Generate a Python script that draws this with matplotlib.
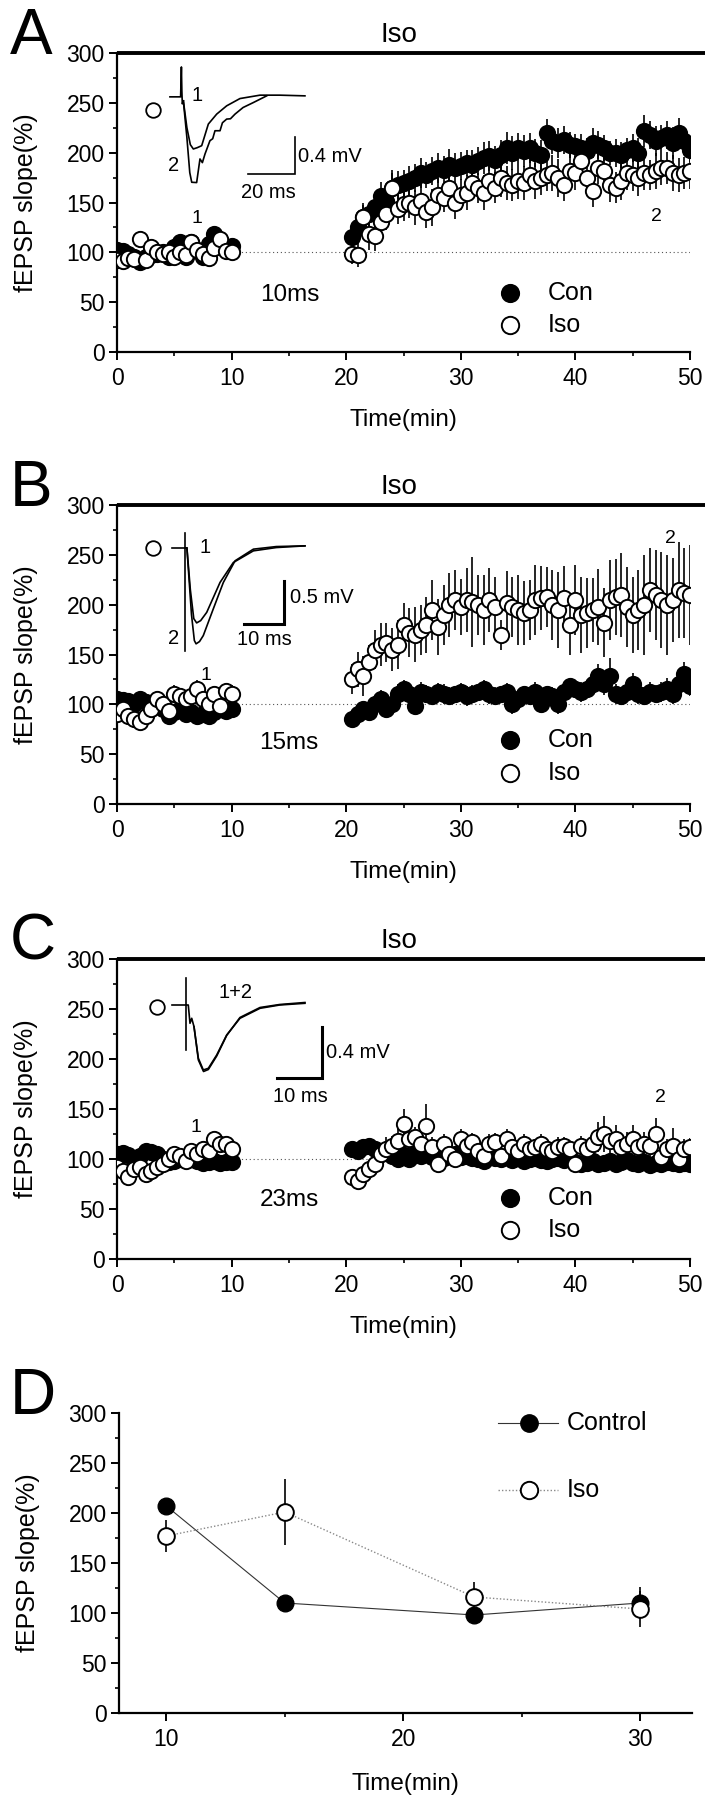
import numpy as np
import matplotlib
matplotlib.use("Agg")
import matplotlib.pyplot as plt

plt.rcParams['font.family'] = ['Liberation Sans', 'DejaVu Sans']

# ---------------- time grids ----------------
t_base = np.arange(0, 10.01, 0.5)
t_post = np.arange(20.5, 50.01, 0.5)

# ---------------- Panel A (10 ms) ----------------
A_con_base = [102, 101, 98, 95, 90, 95, 97, 98, 100, 95, 105, 110, 95, 110, 102, 95, 108, 118, 112, 104, 106]
A_iso_base = [92, 91, 94, 93, 113, 92, 105, 100, 98, 100, 95, 100, 97, 110, 102, 98, 94, 104, 113, 101, 100]
A_con_post = [115, 125, 135, 138, 145, 157, 152, 165, 168, 170, 172, 175, 180, 178, 182, 185, 183, 188, 185, 187,
              190, 188, 192, 195, 197, 193, 198, 205, 200, 205, 202, 205, 200, 198, 220, 212, 210, 213, 208, 207,
              205, 202, 210, 208, 205, 200, 200, 198, 203, 205, 200, 222, 218, 212, 215, 218, 210, 220, 212, 203]
A_iso_post = [98, 97, 135, 118, 116, 130, 138, 165, 143, 148, 150, 145, 152, 140, 145, 158, 155, 165, 150, 158,
              160, 170, 165, 160, 172, 165, 175, 170, 168, 172, 170, 178, 172, 175, 178, 180, 175, 168, 182, 180,
              192, 175, 162, 185, 182, 168, 165, 172, 180, 178, 175, 180, 178, 182, 185, 185, 180, 178, 180, 182]
A_con_base_err = [5, 4, 4, 5, 6, 5, 5, 4, 5, 6, 5, 6, 5, 6, 5, 6, 5, 7, 6, 5, 5]
A_iso_base_err = [5, 6, 5, 5, 6, 5, 6, 5, 5, 6, 5, 6, 5, 6, 5, 6, 5, 6, 5, 6, 5]
A_con_post_err = [8, 10, 12, 12, 13, 14, 12, 15, 14, 13, 15, 14, 15, 13, 14, 15, 14, 16, 15, 14,
                  13, 15, 14, 16, 15, 14, 15, 16, 17, 15, 16, 15, 14, 15, 14, 13, 15, 14, 13, 12,
                  14, 13, 15, 14, 13, 12, 14, 13, 12, 14, 15, 16, 14, 15, 13, 14, 16, 15, 14, 12]
A_iso_post_err = [10, 12, 14, 16, 15, 14, 16, 18, 15, 17, 16, 18, 17, 16, 19, 17, 15, 18, 17, 16,
                  18, 17, 15, 18, 17, 16, 19, 17, 16, 18, 17, 15, 18, 17, 16, 18, 19, 16, 18, 17,
                  15, 18, 17, 16, 18, 17, 16, 19, 17, 16, 18, 17, 15, 18, 17, 16, 18, 17, 16, 18]

# ---------------- Panel B (15 ms) ----------------
B_con_base = [105, 104, 103, 100, 105, 102, 98, 100, 95, 88, 92, 95, 90, 92, 88, 90, 88, 92, 95, 93, 95]
B_iso_base = [90, 95, 88, 85, 82, 88, 95, 105, 100, 93, 110, 108, 105, 108, 115, 105, 100, 110, 98, 113, 110]
B_con_post = [85, 90, 95, 92, 100, 105, 95, 100, 110, 115, 110, 98, 112, 110, 108, 112, 110, 108, 110, 112,
              108, 110, 112, 115, 110, 108, 110, 112, 100, 105, 110, 108, 112, 100, 110, 108, 100, 112, 118, 115,
              112, 115, 120, 128, 120, 128, 110, 108, 112, 120, 110, 108, 112, 110, 112, 115, 110, 120, 130, 118]
B_iso_post = [125, 135, 128, 142, 155, 160, 162, 155, 160, 180, 172, 170, 175, 180, 195, 178, 190, 200, 205, 198,
              205, 203, 200, 195, 205, 198, 170, 202, 198, 195, 192, 195, 205, 207, 208, 200, 195, 207, 180, 205,
              190, 192, 195, 198, 182, 205, 208, 210, 198, 190, 195, 200, 215, 210, 205, 200, 205, 215, 212, 210]
B_con_base_err = [6, 5, 6, 5, 6, 5, 6, 5, 6, 5, 6, 5, 6, 5, 6, 5, 6, 5, 6, 5, 6]
B_iso_base_err = [7, 8, 7, 8, 7, 8, 7, 8, 9, 8, 9, 8, 9, 8, 9, 8, 9, 8, 9, 8, 9]
B_con_post_err = [6, 7, 8, 7, 8, 9, 8, 9, 10, 9, 10, 9, 10, 9, 8, 9, 10, 9, 8, 9,
                  10, 9, 8, 9, 10, 9, 8, 9, 10, 9, 8, 9, 10, 9, 8, 9, 10, 9, 8, 9,
                  10, 9, 10, 12, 11, 18, 10, 9, 10, 11, 10, 9, 10, 9, 10, 11, 10, 11, 12, 10]
B_iso_post_err = [15, 18, 20, 18, 20, 22, 20, 22, 25, 22, 25, 28, 25, 28, 30, 28, 30, 32, 30, 28,
                  32, 45, 30, 35, 32, 30, 15, 32, 30, 35, 32, 30, 35, 32, 30, 35, 38, 32, 30, 35,
                  38, 35, 32, 38, 35, 40, 38, 42, 40, 38, 40, 50, 42, 45, 48, 50, 42, 48, 45, 50]

# ---------------- Panel C (23 ms) ----------------
C_con_base = [105, 106, 104, 100, 103, 108, 107, 105, 100, 97, 98, 100, 102, 100, 98, 96, 97, 98, 96, 97, 97]
C_iso_base = [92, 88, 82, 90, 92, 85, 88, 92, 95, 100, 105, 103, 98, 108, 105, 110, 108, 120, 115, 115, 110]
C_con_post = [110, 108, 112, 113, 110, 105, 108, 103, 100, 104, 100, 105, 103, 106, 102, 104, 101, 103, 105, 102,
              103, 101, 100, 98, 102, 101, 100, 103, 99, 101, 98, 100, 101, 99, 98, 100, 101, 99, 100, 97,
              95, 96, 98, 95, 96, 98, 95, 97, 99, 96, 95, 97, 94, 96, 95, 97, 96, 95, 96, 95]
C_iso_post = [82, 78, 85, 90, 95, 105, 110, 113, 118, 135, 120, 122, 115, 133, 112, 95, 115, 105, 100, 120,
              113, 117, 108, 103, 115, 117, 103, 120, 112, 108, 115, 110, 112, 115, 110, 108, 112, 113, 110, 95,
              113, 110, 115, 122, 125, 118, 120, 112, 115, 120, 112, 115, 113, 125, 102, 110, 113, 100, 110, 112]
C_con_base_err = [4, 5, 4, 5, 4, 5, 4, 5, 4, 5, 4, 5, 4, 5, 4, 5, 4, 5, 4, 5, 4]
C_iso_base_err = [6, 7, 6, 7, 6, 7, 6, 7, 6, 7, 6, 7, 6, 7, 6, 7, 6, 7, 6, 7, 6]
C_con_post_err = [5, 6, 5, 6, 5, 6, 5, 6, 5, 6, 5, 6, 5, 6, 5, 6, 5, 6, 5, 6,
                  5, 6, 5, 6, 5, 6, 5, 6, 5, 6, 5, 6, 5, 6, 5, 6, 5, 6, 5, 6,
                  5, 6, 5, 6, 5, 6, 5, 6, 5, 6, 5, 6, 5, 6, 5, 6, 5, 6, 5, 6]
C_iso_post_err = [6, 8, 8, 9, 10, 10, 12, 10, 12, 15, 12, 10, 12, 22, 10, 8, 10, 9, 8, 10,
                  10, 9, 8, 9, 10, 9, 8, 10, 9, 8, 10, 9, 8, 10, 9, 8, 10, 9, 8, 9,
                  10, 9, 12, 15, 18, 12, 14, 10, 12, 14, 10, 12, 11, 16, 9, 10, 18, 12, 10, 9]

# ---------------- Panel D (summary) ----------------
D_time = [10, 15, 23, 30]
D_con = [207, 110, 98, 110]
D_con_err = [4, 4, 4, 16]
D_iso = [177, 201, 116, 104]
D_iso_err = [16, 33, 15, 18]

# ---------------- Inset traces (data coords of each panel) ----------------
A_tr_base_x = [4.62, 5.55, 5.62, 5.66, 5.70, 5.79]
A_tr_base_y = [256, 256, 286, 262, 249, 252]
A_tr1_x = [5.79, 6.1, 6.4, 6.66, 7.0, 7.39, 7.97, 8.7, 9.57, 10.73, 12.48, 14.2, 16.4]
A_tr1_y = [252, 225, 208, 203.7, 205, 207, 228.7, 238.7, 247, 254.3, 257.7, 257.7, 257]
A_tr2_x = [5.79, 6.1, 6.35, 6.52, 6.95, 7.24, 7.45, 7.68, 8.11, 8.35, 8.55, 8.99, 9.2, 9.57, 9.9, 10.3, 11.0, 11.9, 13.06]
A_tr2_y = [252, 215, 180, 170.3, 170, 193.7, 190, 198.7, 212, 214, 222, 222, 230, 233.7, 234, 238.7, 245.3, 250.3, 257]

B_tr_base_x = [4.77, 5.93]
B_tr_base_y = [257, 257]
B_art_x = [5.93, 5.93]
B_art_y = [272, 154]
B_tr1_x = [5.95, 6.1, 6.4, 6.7, 6.95, 7.3, 7.83, 8.99, 10.15, 11.9, 13.9, 16.4]
B_tr1_y = [257, 257, 215, 186, 181.7, 184, 192.3, 222.3, 242.3, 254, 257.3, 259]
B_tr2_x = [6.1, 6.5, 6.75, 6.9, 7.2, 7.53, 8.4, 9.28, 10.3, 11.9, 13.9, 16.4]
B_tr2_y = [257, 190, 164, 160.7, 163, 169, 195.7, 222.3, 244, 255.7, 258.3, 259]

C_tr_base_x = [4.77, 6.02]
C_tr_base_y = [254, 254]
C_art_x = [6.02, 6.02]
C_art_y = [280.7, 209]
C_tr1_x = [6.05, 6.22, 6.37, 6.52, 6.72, 7.1, 7.53, 7.97, 8.7, 9.57, 10.73, 12.48, 14.2, 16.4]
C_tr1_y = [254, 254, 235.7, 240.7, 232.3, 200.7, 189, 190.7, 204, 224, 240.7, 250.7, 254, 255.7]
C_tr2_x = [6.72, 7.1, 7.55, 7.97, 8.7, 9.57, 10.73, 12.48, 14.2, 16.4]
C_tr2_y = [232.3, 199, 187.5, 189.5, 203, 223.5, 241.5, 251.5, 254.5, 256.5]

# scale bars: (x_left, x_corner, y_bottom, y_top)
A_bar = (11.4, 15.53, 178.7, 215.3)
B_bar = (11.08, 14.57, 180.7, 224)
C_bar = (14.0, 17.86, 180.7, 232.3)

# ---------------- figure ----------------
W, H = 710, 1800
fig = plt.figure(figsize=(W / 100, H / 100), dpi=100)


def fpos(left, right, top, bottom):
    return [left / W, 1 - bottom / H, (right - left) / W, (bottom - top) / H]


TICK_FS = 16.5
LAB_FS = 17.5
MS = 11


def style_axes(ax, xmaj, xmin_, xlim):
    ax.set_ylim(0, 300)
    ax.set_xlim(*xlim)
    for s in ['top', 'right']:
        ax.spines[s].set_visible(False)
    for s in ['left', 'bottom']:
        ax.spines[s].set_linewidth(1.6)
    ax.set_yticks(np.arange(0, 301, 50))
    ax.set_yticks(np.arange(25, 300, 50), minor=True)
    ax.set_xticks(xmaj)
    ax.set_xticks(xmin_, minor=True)
    ax.tick_params(which='major', direction='out', length=6, width=1.4, labelsize=TICK_FS, pad=3)
    ax.tick_params(which='minor', direction='out', length=3, width=1.2)
    ax.tick_params(axis='x', which='major', pad=5)
    ax.set_ylabel('fEPSP slope(%)', fontsize=18)
    ax.set_xlabel('Time(min)', fontsize=LAB_FS)
    ax.yaxis.set_label_coords(-0.138, 0.5)
    ax.xaxis.set_label_coords(0.5, -0.19)


def draw_series(ax, tb, yb, eb, tp, yp, ep, filled, z):
    t = np.concatenate([tb, tp])
    y = np.concatenate([yb, yp])
    e = np.concatenate([eb, ep])
    ax.errorbar(t, y, yerr=e, fmt='none', ecolor='black', elinewidth=1.2, capsize=0, zorder=z)
    ax.plot(t, y, 'o', ms=MS, mfc='black' if filled else 'white', mec='black', mew=1.4,
            zorder=z + 1, linestyle='none')


panels = [
    dict(letter='A', top=53, bottom=352, con_b=A_con_base, con_be=A_con_base_err, con_p=A_con_post,
         con_pe=A_con_post_err, iso_b=A_iso_base, iso_be=A_iso_base_err, iso_p=A_iso_post, iso_pe=A_iso_post_err,
         ms='10ms', ms_xy=(15.1, 57), lab1=(7.0, 134), lab2=(47.1, 136), leg_y=(59, 27),
         base=(A_tr_base_x, A_tr_base_y), art=None, tr1=(A_tr1_x, A_tr1_y), tr2=(A_tr2_x, A_tr2_y),
         circ=(3.17, 243), bar=A_bar, mv='0.4 mV', mv_xy=(15.8, 196), tms='20 ms', tms_xy=(13.2, 160),
         tl=[('1', 6.95, 257), ('2', 4.9, 187)], barw=1.2),
    dict(letter='B', top=505, bottom=804, con_b=B_con_base, con_be=B_con_base_err, con_p=B_con_post,
         con_pe=B_con_post_err, iso_b=B_iso_base, iso_be=B_iso_base_err, iso_p=B_iso_post, iso_pe=B_iso_post_err,
         ms='15ms', ms_xy=(15.0, 61), lab1=(7.8, 129), lab2=(48.3, 266), leg_y=(64, 31),
         base=(B_tr_base_x, B_tr_base_y), art=(B_art_x, B_art_y), tr1=(B_tr1_x, B_tr1_y), tr2=(B_tr2_x, B_tr2_y),
         circ=(3.17, 257), bar=B_bar, mv='0.5 mV', mv_xy=(15.1, 207), tms='10 ms', tms_xy=(12.9, 165),
         tl=[('1', 7.68, 257), ('2', 4.9, 166)], barw=2.2),
    dict(letter='C', top=959, bottom=1259, con_b=C_con_base, con_be=C_con_base_err, con_p=C_con_post,
         con_pe=C_con_post_err, iso_b=C_iso_base, iso_be=C_iso_base_err, iso_p=C_iso_post, iso_pe=C_iso_post_err,
         ms='23ms', ms_xy=(15.0, 59), lab1=(6.9, 131), lab2=(47.4, 162), leg_y=(61, 29),
         base=(C_tr_base_x, C_tr_base_y), art=(C_art_x, C_art_y), tr1=(C_tr1_x, C_tr1_y), tr2=(C_tr2_x, C_tr2_y),
         circ=(3.46, 252), bar=C_bar, mv='0.4 mV', mv_xy=(18.24, 206), tms='10 ms', tms_xy=(16.0, 162),
         tl=[('1+2', 8.84, 267)], barw=2.2),
]

for p in panels:
    ax = fig.add_axes(fpos(117, 690, p['top'], p['bottom']))
    style_axes(ax, np.arange(0, 51, 10), np.arange(5, 50, 10), (0, 50))
    # baseline reference
    ax.plot([0, 50], [100, 100], linestyle=(0, (1, 2.5)), color='#555555', lw=0.8, zorder=1)
    draw_series(ax, t_base, p['con_b'], p['con_be'], t_post, p['con_p'], p['con_pe'], True, 2)
    draw_series(ax, t_base, p['iso_b'], p['iso_be'], t_post, p['iso_p'], p['iso_pe'], False, 4)
    # Iso application bar
    ax.plot([0, 51.3], [300, 300], color='black', lw=2.8, clip_on=False, solid_capstyle='butt', zorder=6)
    ax.text(24.6, 305, 'Iso', fontsize=20, ha='center', va='bottom')
    # panel letter
    fig.text(10 / W, 1 - (p['top'] + 1) / H, p['letter'], fontsize=46, va='baseline', ha='left')
    # annotations
    ax.text(*p['ms_xy'], p['ms'], fontsize=17.5, ha='center', va='center')
    ax.text(*p['lab1'], '1', fontsize=14, ha='center', va='center')
    ax.text(*p['lab2'], '2', fontsize=14, ha='center', va='center')
    # legend
    ax.plot([34.3], [p['leg_y'][0]], 'o', ms=12.5, mfc='black', mec='black', mew=1.3)
    ax.plot([34.3], [p['leg_y'][1]], 'o', ms=12.5, mfc='white', mec='black', mew=1.4)
    ax.text(37.6, p['leg_y'][0], 'Con', fontsize=18, va='center', ha='left')
    ax.text(37.6, p['leg_y'][1], 'Iso', fontsize=18, va='center', ha='left')
    # inset trace
    ax.plot(*p['base'], color='black', lw=1.2, zorder=7)
    if p['art'] is not None:
        ax.plot(*p['art'], color='black', lw=1.2, zorder=7)
    ax.plot(*p['tr1'], color='black', lw=1.2, zorder=7)
    ax.plot(*p['tr2'], color='black', lw=1.2, zorder=7)
    ax.plot([p['circ'][0]], [p['circ'][1]], 'o', ms=10.5, mfc='white', mec='black', mew=1.3, zorder=7)
    bx0, bx1, by0, by1 = p['bar']
    ax.plot([bx0, bx1, bx1], [by0, by0, by1], color='black', lw=p['barw'], zorder=7,
            solid_joinstyle='miter')
    ax.text(*p['mv_xy'], p['mv'], fontsize=14.5, ha='left', va='center')
    ax.text(*p['tms_xy'], p['tms'], fontsize=14.5, ha='center', va='center')
    for s, x, y in p['tl']:
        ax.text(x, y, s, fontsize=14.5, ha='left' if s == '1+2' else 'center', va='center')

# ---------------- Panel D ----------------
axd = fig.add_axes(fpos(119, 692, 1413, 1713))
style_axes(axd, [10, 20, 30], [15, 25], (8.0, 32.2))
axd.errorbar(D_time, D_con, yerr=D_con_err, fmt='none', ecolor='black', elinewidth=1.2, capsize=0, zorder=2)
axd.plot(D_time, D_con, '-', color='#333333', lw=0.8, zorder=2)
axd.plot(D_time, D_con, 'o', ms=12, mfc='black', mec='black', zorder=3)
axd.errorbar(D_time, D_iso, yerr=D_iso_err, fmt='none', ecolor='black', elinewidth=1.2, capsize=0, zorder=4)
axd.plot(D_time, D_iso, linestyle=(0, (1, 1.5)), color='#888888', lw=1.0, zorder=4)
axd.plot(D_time, D_iso, 'o', ms=12, mfc='white', mec='black', mew=1.4, zorder=5)
fig.text(10 / W, 1 - 1414 / H, 'D', fontsize=46, va='baseline', ha='left')
# legend D
axd.plot([24.0, 26.55], [290, 290], '-', color='#333333', lw=0.8)
axd.plot([25.3], [290], 'o', ms=12.5, mfc='black', mec='black')
axd.plot([24.0, 26.55], [223, 223], linestyle=(0, (1, 1.5)), color='#888888', lw=1.0)
axd.plot([25.3], [223], 'o', ms=12.5, mfc='white', mec='black', mew=1.4)
axd.text(26.9, 290, 'Control', fontsize=18, va='center', ha='left')
axd.text(26.9, 223, 'Iso', fontsize=18, va='center', ha='left')
axd.xaxis.set_label_coords(0.5, -0.2)

fig.savefig('out.png', dpi=100)
